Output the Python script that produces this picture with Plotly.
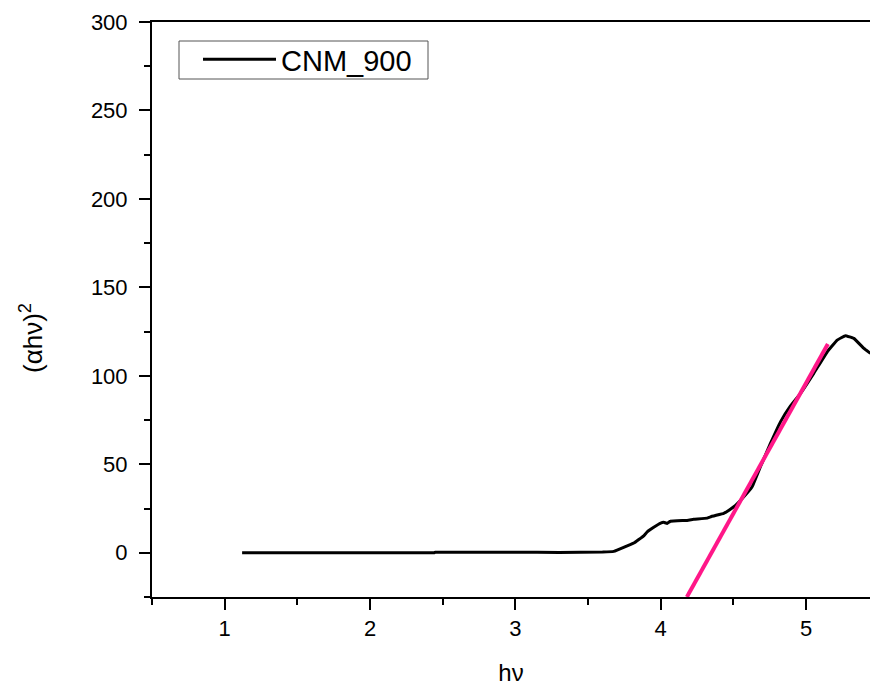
import plotly.graph_objects as go

# Tauc plot data for CNM_900: photon energy (eV) vs (alpha*h*nu)^2
hv = [1.12, 1.50, 2.00, 2.44, 2.45, 3.00, 3.30, 3.60, 3.677, 3.70, 3.79,
      3.815, 3.883, 3.907, 3.952, 4.000, 4.021, 4.044, 4.067, 4.182, 4.227,
      4.320, 4.342, 4.434, 4.446, 4.503, 4.561, 4.629, 4.686, 4.755, 4.824,
      4.893, 4.962, 5.053, 5.146, 5.214, 5.271, 5.329, 5.398, 5.443]
ahv2 = [0.0, 0.0, 0.0, 0.05, 0.3, 0.3, 0.2, 0.4, 0.8, 1.5, 4.6,
        5.5, 9.6, 11.8, 14.4, 16.8, 17.2, 16.6, 17.8, 18.3, 18.9,
        19.6, 20.3, 22.3, 22.8, 26.0, 30.7, 37.3, 48.6, 61.8, 74.0,
        83.0, 90.1, 101.4, 113.6, 120.2, 122.7, 121.2, 115.5, 112.7]

# Linear fit of the absorption edge, extrapolated to the energy axis
fit_hv = [4.18, 5.15]
fit_val = [-25.0, 118.0]

series_name = "CNM_900"
x_ticks = [1, 2, 3, 4, 5]
y_ticks = [0, 50, 100, 150, 200, 250, 300]

FONT = "Arial, Liberation Sans, sans-serif"
PLOT_W, PLOT_H = 718, 575   # plot area size in px
LEFT, TOP = 152, 22         # plot area offset in px


def px_to_paper(px, py):
    """Convert page pixel coordinates to paper fractions of the plot area."""
    return (px - LEFT) / PLOT_W, (TOP + PLOT_H - py) / PLOT_H


fig = go.Figure()
fig.add_trace(go.Scatter(x=hv, y=ahv2, mode="lines", name=series_name,
                         line=dict(color="black", width=3, shape="spline",
                                   smoothing=0.2)))
fig.add_trace(go.Scatter(x=fit_hv, y=fit_val, mode="lines", showlegend=False,
                         line=dict(color="#FF1788", width=4)))

axis_common = dict(showgrid=False, zeroline=False, showline=True,
                   linecolor="black", linewidth=2, ticks="outside",
                   ticklen=11, tickwidth=2, tickcolor="black",
                   tickfont=dict(family=FONT, size=22, color="black"))

fig.update_xaxes(range=[0.5, 5.44], tickvals=x_ticks, mirror=True,
                 minor=dict(dtick=0.5, ticks="outside", ticklen=6,
                            tickwidth=2, tickcolor="black"),
                 title=dict(text="hν", font=dict(family=FONT, size=24,
                                                  color="black"),
                            standoff=24),
                 **axis_common)
fig.update_yaxes(range=[-25, 300], tickvals=y_ticks, ticklabelstandoff=7,
                 minor=dict(dtick=25, ticks="outside", ticklen=6,
                            tickwidth=2, tickcolor="black"),
                 **axis_common)

# y-axis title, set a little below the plot centre
tx, ty = px_to_paper(31, 338)
fig.add_annotation(text="(αhν)<sup>2</sup>", xref="paper", yref="paper",
                   x=tx, y=ty, xanchor="center", yanchor="middle",
                   textangle=-90, showarrow=False,
                   font=dict(family=FONT, size=26, color="black"))

# legend frame
bx0, by0 = px_to_paper(179, 79)
bx1, by1 = px_to_paper(428, 41)
fig.add_shape(type="rect", xref="paper", yref="paper",
              x0=bx0, y0=by0, x1=bx1, y1=by1,
              line=dict(color="#555555", width=1), fillcolor="rgba(0,0,0,0)")

lx, ly = px_to_paper(198, 34)
fig.update_layout(
    width=870, height=692,
    margin=dict(l=LEFT, r=0, t=TOP, b=692 - TOP - PLOT_H),
    plot_bgcolor="white", paper_bgcolor="white",
    legend=dict(x=lx, y=ly, xanchor="left", yanchor="top",
                borderwidth=0, bgcolor="rgba(0,0,0,0)",
                itemwidth=73,
                font=dict(family=FONT, size=29, color="black")),
)

fig.write_html("out.html")
